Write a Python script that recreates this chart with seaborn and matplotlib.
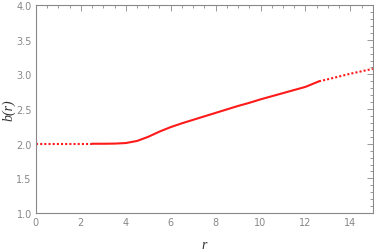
import matplotlib
matplotlib.use("Agg")
import matplotlib.pyplot as plt
import seaborn as sns
import pandas as pd
from matplotlib.ticker import MultipleLocator

sns.set_theme(style="white")

# data
r_left = [0.0, 0.5, 1.0, 1.5, 2.0, 2.5]
b_left = [2.0, 2.0, 2.0, 2.0, 2.0, 2.0]

r_mid = [2.5, 3.0, 3.5, 4.0, 4.5, 5.0, 5.5, 6.0, 6.5, 7.0, 7.5, 8.0, 8.5,
         9.0, 9.5, 10.0, 10.5, 11.0, 11.5, 12.0, 12.6]
b_mid = [2.0, 2.0, 2.002, 2.01, 2.04, 2.10, 2.175, 2.24, 2.295, 2.345, 2.395,
         2.445, 2.495, 2.545, 2.59, 2.64, 2.685, 2.73, 2.775, 2.82, 2.90]

r_right = [12.6, 13.0, 13.5, 14.0, 14.5, 15.0]
b_right = [2.90, 2.93, 2.97, 3.01, 3.045, 3.08]

x_ticks = [0, 2, 4, 6, 8, 10, 12, 14]
y_ticks = [1.0, 1.5, 2.0, 2.5, 3.0, 3.5, 4.0]

fig = plt.figure(figsize=(3.74, 2.51), dpi=100)
ax = fig.add_axes([0.096, 0.147, 0.901, 0.829])

red = "#ff1a1a"
sns.lineplot(data=pd.DataFrame({"r": r_left, "b": b_left}), x="r", y="b", ax=ax,
             color=red, lw=1.5, linestyle=(0, (1, 1)))
sns.lineplot(data=pd.DataFrame({"r": r_mid, "b": b_mid}), x="r", y="b", ax=ax,
             color=red, lw=1.5)
sns.lineplot(data=pd.DataFrame({"r": r_right, "b": b_right}), x="r", y="b", ax=ax,
             color=red, lw=1.5, linestyle=(0, (1, 1)))

ax.set_xlim(0, 15)
ax.set_ylim(1.0, 4.0)
ax.set_xticks(x_ticks)
ax.set_yticks(y_ticks)
ax.set_xticklabels([str(t) for t in x_ticks])
ax.set_yticklabels([f"{t:.1f}" for t in y_ticks])
ax.xaxis.set_minor_locator(MultipleLocator(0.5))
ax.yaxis.set_minor_locator(MultipleLocator(0.1))

gray = "#888888"
for s in ax.spines.values():
    s.set_color(gray)
    s.set_linewidth(0.8)
ax.tick_params(which="both", direction="in", top=True, right=True,
               color=gray, labelcolor=gray, labelsize=7, width=0.6)
ax.tick_params(which="major", length=4, pad=3)
ax.tick_params(which="minor", length=2)

ax.set_xlabel("r", fontfamily="Liberation Serif", fontstyle="italic",
              fontsize=10, color="#333333", labelpad=8)
ax.set_ylabel("b(r)", fontfamily="Liberation Serif", fontstyle="italic",
              fontsize=10, color="#333333")
ax.yaxis.set_label_coords(-0.06, 0.5)
ax.grid(False)

fig.savefig("out.png", dpi=100)
